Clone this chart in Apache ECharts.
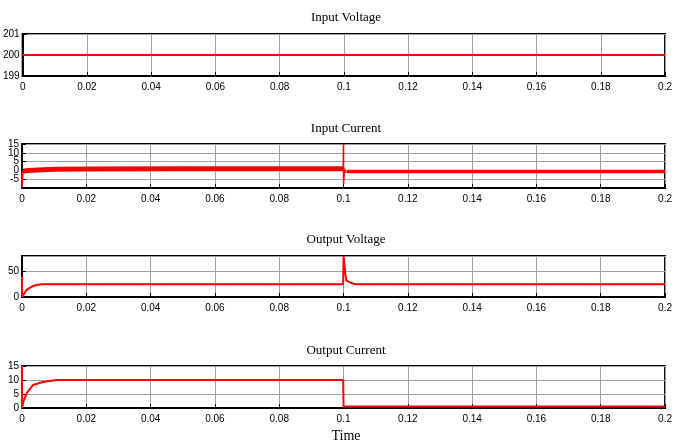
<!DOCTYPE html>
<html><head><meta charset="utf-8">
<script src="https://cdn.jsdelivr.net/npm/echarts@6/dist/echarts.min.js"></script>
<style>html,body{margin:0;padding:0;background:#fff}#c{width:675px;height:446px}</style>
</head><body><div id="c"></div>
<script>
// ---- data ----
const xTicks = ['0','0.02','0.04','0.06','0.08','0.1','0.12','0.14','0.16','0.18','0.2'];
const titles = ['Input Voltage','Input Current','Output Voltage','Output Current'];

const inVoltT = [0, 0.2];
const inVoltV = [200, 200];

// input current: start spike, ripple band before 0.1, spike at 0.1, band after
const inCurSpikeT = [0, 0, 0.0003];
const inCurSpikeV = [-0.5, -9.5, -0.5];
const inCurBand1T = [0.0003, 0.002, 0.005, 0.01, 0.02, 0.05, 0.0999];
const inCurBand1V = [-0.4, 0.0, 0.3, 0.6, 0.8, 0.9, 0.9];
const inCurSpike2T = [0.0999, 0.1, 0.1, 0.1003, 0.1006, 0.101];
const inCurSpike2V = [0.9, 15, -8, 1.0, -1.2, -0.6];
const inCurBand2T = [0.101, 0.2];
const inCurBand2V = [-0.6, -0.6];

const outVoltT = [0, 0, 0.0003, 0.00145, 0.003, 0.0045, 0.0062, 0.01, 0.0999, 0.1, 0.1006, 0.1009, 0.1022, 0.1037, 0.11, 0.2];
const outVoltV = [40, 0, 2, 14, 20, 23.4, 25, 25, 25, 80, 44, 32, 28, 25, 25, 25];

const outCurT = [0, 0, 0.0005, 0.0015, 0.0034, 0.0065, 0.0108, 0.0999, 0.1, 0.1003, 0.2];
const outCurV = [15, 0, 2.5, 5.4, 8.2, 9.3, 10, 10, 0.5, 0.5, 0.5];

const zip = (t, v) => t.map((x, i) => [x, v[i]]);

// ---- layout ----
const grids = [
  {top: 34, height: 42},
  {top: 144, height: 44},
  {top: 256, height: 41},
  {top: 366, height: 42}
];
const yCfg = [
  {min: 199, max: 201, interval: 1, showMin: true, showMax: true, lab: [199, 200, 201]},
  {min: -10, max: 15.01, interval: 5, showMin: false, showMax: null, lab: [-5, 0, 5, 10, 15]},
  {min: 0, max: 80, interval: 50, showMin: true, showMax: false, lab: [0, 50]},
  {min: 0, max: 15, interval: 5, showMin: true, showMax: true, lab: [0, 5, 10, 15]}
];
const titleY = [18, 129, 240, 351];
const font = 'Liberation Sans';

const option = {
  animation: false,
  backgroundColor: '#fff',
  grid: grids.map(g => ({left: 22, right: 5, top: g.top, height: g.height, show: true,
    borderColor: '#000', borderWidth: 2, backgroundColor: 'transparent', containLabel: false})),
  xAxis: grids.map((g, i) => ({
    type: 'value', gridIndex: i, min: 0, max: 0.2, interval: 0.02,
    axisLine: {show: true, onZero: false, lineStyle: {color: '#000', width: 2}},
    axisTick: {show: true, inside: true, length: 4, lineStyle: {color: '#000'}},
    splitLine: {show: true, lineStyle: {color: '#a0a0a0', width: 1}},
    axisLabel: {color: '#000', fontFamily: font, fontSize: 10, margin: 6,
      formatter: v => xTicks[Math.round(v / 0.02)] || ''}
  })),
  yAxis: yCfg.map((c, i) => ({
    type: 'value', gridIndex: i, min: c.min, max: c.max, interval: c.interval,
    axisLine: {show: true, onZero: false, lineStyle: {color: '#000', width: 2}},
    axisTick: {show: true, inside: true, length: 4, lineStyle: {color: '#000'}},
    splitLine: {show: true, lineStyle: {color: '#a0a0a0', width: 1}},
    axisLabel: {color: '#000', fontFamily: font, fontSize: 10, lineHeight: 8, margin: 3,
      showMinLabel: c.showMin, showMaxLabel: c.showMax,
      formatter: v => c.lab.indexOf(v) >= 0 ? String(v) : ''}
  })),
  graphic: titles.map((t, i) => ({
    type: 'text', x: 346, y: titleY[i], z: 10,
    style: {text: t, fill: '#000', font: '13px "Liberation Serif"', textAlign: 'center', textVerticalAlign: 'middle'}
  })).concat([{
    type: 'text', x: 346, y: 436, z: 10,
    style: {text: 'Time', fill: '#000', font: '14px "Liberation Serif"', textAlign: 'center', textVerticalAlign: 'middle'}
  }]),
  series: [
    {type: 'line', xAxisIndex: 0, yAxisIndex: 0, data: zip(inVoltT, inVoltV), showSymbol: false,
      lineStyle: {color: '#ff0000', width: 2}},
    {type: 'line', xAxisIndex: 1, yAxisIndex: 1, data: zip(inCurSpikeT, inCurSpikeV), showSymbol: false,
      lineStyle: {color: '#ff0000', width: 1.5}},
    {type: 'line', xAxisIndex: 1, yAxisIndex: 1, data: zip(inCurBand1T, inCurBand1V), showSymbol: false,
      lineStyle: {color: '#ff0000', width: 5}},
    {type: 'line', xAxisIndex: 1, yAxisIndex: 1, data: zip(inCurSpike2T, inCurSpike2V), showSymbol: false,
      lineStyle: {color: '#ff0000', width: 1.5}},
    {type: 'line', xAxisIndex: 1, yAxisIndex: 1, data: zip(inCurBand2T, inCurBand2V), showSymbol: false,
      lineStyle: {color: '#ff0000', width: 3.5}},
    {type: 'line', xAxisIndex: 2, yAxisIndex: 2, data: zip(outVoltT, outVoltV), showSymbol: false,
      lineStyle: {color: '#ff0000', width: 2}},
    {type: 'line', xAxisIndex: 3, yAxisIndex: 3, data: zip(outCurT, outCurV), showSymbol: false,
      lineStyle: {color: '#ff0000', width: 2}}
  ]
};
echarts.init(document.getElementById('c'), null, {renderer: 'canvas'}).setOption(option);
</script></body></html>
